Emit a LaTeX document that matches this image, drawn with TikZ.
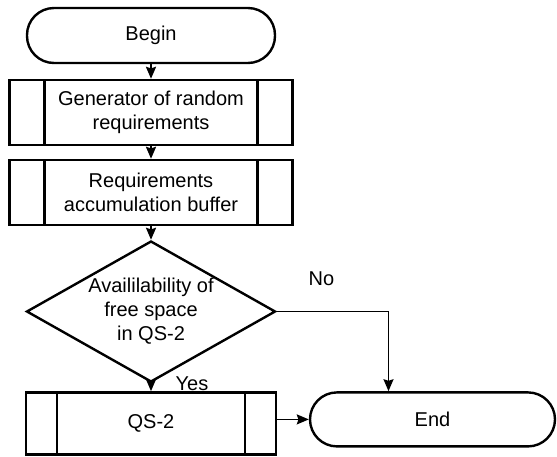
\documentclass[tikz,border=0pt]{standalone}
\usepackage{fontspec}
\setmainfont{Liberation Sans}
\usepackage{tikz}
\usetikzlibrary{positioning, arrows.meta, shapes.geometric}

\begin{document}
\begin{tikzpicture}[
    >={Stealth[length=6pt, width=5pt, inset=0.8pt]},
    node distance=8pt,
    box/.style={draw, line width=1.2pt, align=center, inner sep=0pt},
    termbox/.style={box, rounded corners=13.5pt, minimum width=124pt, minimum height=27.5pt},
    procbox/.style={box, minimum width=141.5pt, minimum height=32.5pt,
                    path picture={
                      \draw[line width=1.2pt]
                        ([xshift=#1]path picture bounding box.north west) -- ([xshift=#1]path picture bounding box.south west)
                        ([xshift=-#1]path picture bounding box.north east) -- ([xshift=-#1]path picture bounding box.south east);
                    }},
    procbox/.default=17.5pt,
    decbox/.style={box, diamond, aspect=1.84, minimum width=124.5pt, minimum height=70.5pt},
    arrow/.style={->, line width=1pt},
    thinarrow/.style={->, line width=0.8pt},
]
\useasboundingbox (0,0) rectangle (278.5pt,-228pt);

% --- Main column ---
\node[termbox] (begin) at (75.5pt,-17.75pt) {Begin};
\node[procbox, below=7.3pt of begin] (gen) {Generator of random\\requirements};
\node[procbox, below=6.3pt of gen] (buf) {Requirements\\accumulation buffer};
\node[decbox, below=6.8pt of buf] (dec) {Availilability of\\free space\\in QS-2};
\node[procbox=15.5pt, below=4pt of dec, minimum width=125pt, minimum height=31pt] (qs) {QS-2};

% --- Terminal on the right ---
\node[termbox, right=15.8pt of qs, yshift=2pt, minimum width=122.5pt, minimum height=27pt] (end) {End};

% Arrows down the column
\draw[arrow] (begin) -- (gen);
\draw[arrow] (gen) -- (buf);
\draw[arrow] (buf) -- (dec);
\draw[arrow] (dec) -- node[right=8.5pt, yshift=1.5pt] {Yes} (qs);

% Branches into End
\draw[thinarrow] (qs.east |- end.west) -- (end.west);
\draw[thinarrow] (dec.east) -| node[pos=0.2, above=9pt] {No} ([xshift=-22pt]end.north);

\end{tikzpicture}
\end{document}
